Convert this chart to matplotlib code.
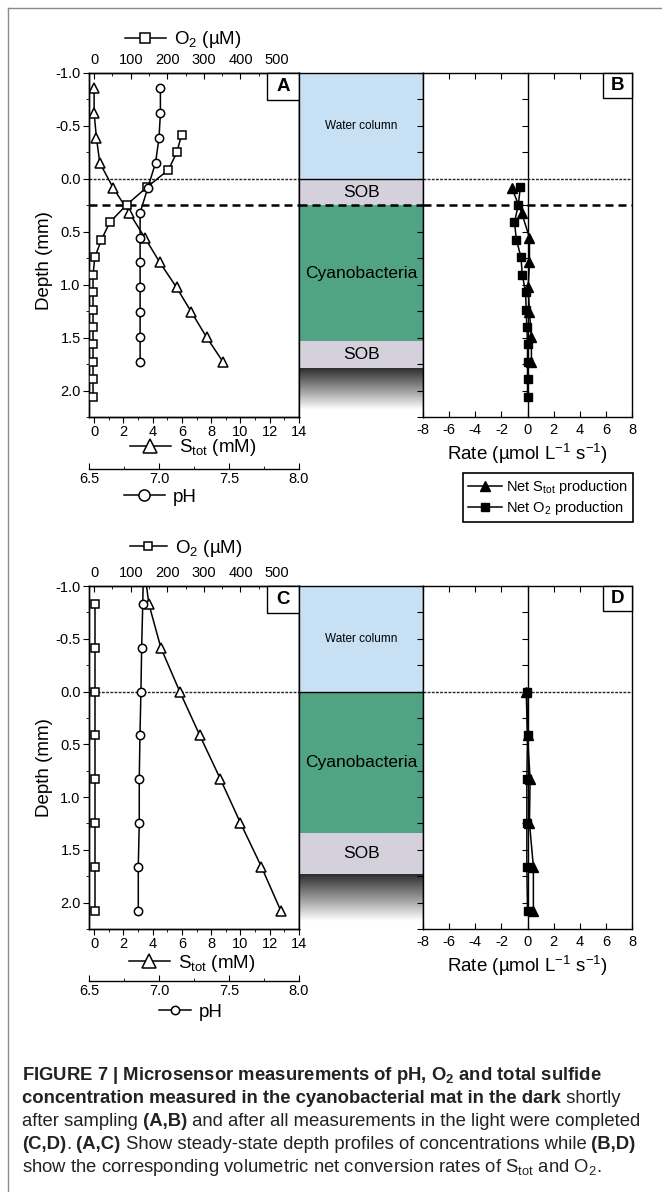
import numpy as np
import matplotlib
matplotlib.use('Agg')
import matplotlib.pyplot as plt
from matplotlib.lines import Line2D
from matplotlib.patches import Rectangle
from matplotlib.colors import LinearSegmentedColormap
from matplotlib.ticker import MultipleLocator, FormatStrFormatter, NullFormatter

plt.rcParams['font.family'] = ['Liberation Sans', 'DejaVu Sans']
plt.rcParams['mathtext.fontset'] = 'custom'
plt.rcParams['mathtext.rm'] = 'Liberation Sans'
plt.rcParams['mathtext.it'] = 'Liberation Sans:italic'
plt.rcParams['mathtext.bf'] = 'Liberation Sans:bold'
plt.rcParams['axes.linewidth'] = 1.0
plt.rcParams['axes.unicode_minus'] = False

# ---- data ----
# panel A: profiles in the dark shortly after sampling
a_depth = [-0.855, -0.62, -0.385, -0.15, 0.085, 0.32, 0.555, 0.79, 1.025, 1.26, 1.495, 1.73]
a_stot = [0.0, 0.0, 0.16, 0.39, 1.3, 2.4, 3.46, 4.49, 5.63, 6.65, 7.68, 8.81]
a_ph = [7.01, 7.01, 7.0, 6.975, 6.92, 6.865, 6.865, 6.865, 6.865, 6.865, 6.865, 6.865]
a_o2_depth = [-0.415, -0.25, -0.085, 0.08, 0.245, 0.41, 0.575, 0.74, 0.905, 1.07,
              1.235, 1.40, 1.565, 1.73, 1.895, 2.06]
a_o2 = [239, 226, 203, 144, 89, 43, 20, 2, -3, -3, -3, -3, -3, -3, -3, -3]

# panel B: net volumetric rates
b_s_depth = [0.085, 0.32, 0.555, 0.79, 1.025, 1.26, 1.495, 1.73]
b_s_rate = [-1.2, -0.45, 0.15, 0.15, 0.05, 0.15, 0.3, 0.3]
b_o2_depth = [0.08, 0.245, 0.41, 0.575, 0.74, 0.905, 1.07, 1.235, 1.40, 1.565, 1.73, 1.895, 2.06]
b_o2_rate = [-0.55, -0.7, -1.0, -0.85, -0.5, -0.4, -0.15, -0.1, -0.05, 0.0, 0.0, 0.0, 0.0]

# panel C: profiles after the light measurements
c_depth = [-1.245, -0.83, -0.415, 0.0, 0.415, 0.83, 1.245, 1.66, 2.075]
c_stot = [3.35, 3.74, 4.56, 5.85, 7.22, 8.63, 10.0, 11.43, 12.75]
c_ph = [6.89, 6.884, 6.876, 6.871, 6.864, 6.859, 6.859, 6.852, 6.852]
c_o2_depth = [-0.83, -0.415, 0.0, 0.415, 0.83, 1.245, 1.66, 2.075]
c_o2 = [2, 2, 2, 2, 2, 2, 2, 2]

# panel D
d_depth = [0.0, 0.415, 0.83, 1.245, 1.66, 2.075]
d_s_rate = [-0.1, 0.0, 0.2, 0.15, 0.45, 0.45]
d_o2_rate = [-0.05, 0.0, -0.05, -0.05, -0.05, 0.0]

# zonation of the mat (name, top depth, bottom depth) and top of the sediment
a_zones = [('Water column', -1.0, 0.0), ('SOB', 0.0, 0.25),
           ('Cyanobacteria', 0.25, 1.53), ('SOB', 1.53, 1.79)]
a_sediment = 1.79
c_zones = [('Water column', -1.0, 0.0), ('Cyanobacteria', 0.0, 1.34), ('SOB', 1.34, 1.73)]
c_sediment = 1.73

CAPTION = [
    [('FIGURE 7 | Microsensor measurements of pH, O$_\\mathbf{2}$ and total sulfide', 'bold')],
    [('concentration measured in the cyanobacterial mat in the dark', 'bold'), (' shortly', 'normal')],
    [('after sampling', 'normal'), (' (A,B)', 'bold'),
     (' and after all measurements in the light were completed', 'normal')],
    [('(C,D)', 'bold'), ('.', 'normal'), (' (A,C)', 'bold'),
     (' Show steady-state depth profiles of concentrations while', 'normal'), (' (B,D)', 'bold')],
    [('show the corresponding volumetric net conversion rates of S$_\\mathrm{tot}$ and O$_2$.', 'normal')],
]

ZONE_COLORS = {'Water column': '#c7e0f3', 'SOB': '#d4d1dc', 'Cyanobacteria': '#50a484'}
ZONE_SIZE = {'Water column': 8.5, 'SOB': 12.5, 'Cyanobacteria': 12.5}
SEDIMENT = LinearSegmentedColormap.from_list(
    'sed', [(0, '#2d2d2d'), (0.45, '#9b9b9b'), (0.85, '#ffffff'), (1, '#ffffff')])

DEPTH_LIM = (2.25, -1.0)
S_LIM = (-0.35, 14.0)
O2_PER_S = 40.0

W, H = 662, 1192
fig = plt.figure(figsize=(W / 100, H / 100), dpi=100)


def rect(x0, y0, x1, y1):
    return [x0 / W, 1 - y1 / H, (x1 - x0) / W, (y1 - y0) / H]


def fxy(x, y):
    return (x / W, 1 - y / H)


def ref_lines(ax, dashed, solid=False):
    if solid:
        ax.axhline(0, color='k', lw=1.0, zorder=2)
    else:
        ax.axhline(0, color='#222222', lw=1.0, ls=(0, (2, 1)), zorder=1.5)
    if dashed is not None:
        ax.axhline(dashed, color='k', lw=1.8, ls=(0, (3.2, 2)), zorder=1.5)


def letter_box(ax, letter, bw, bh):
    ax.add_patch(Rectangle((1 - bw, 1 - bh), bw, bh, transform=ax.transAxes, facecolor='white',
                           edgecolor='k', lw=1.0, clip_on=False, zorder=5))
    ax.text(1 - bw / 2, 1 - bh / 2, letter, transform=ax.transAxes, ha='center', va='center',
            fontsize=13.5, fontweight='bold', zorder=6)


def glyph_legend(ax, marker, ms, label, pos, hl=2.2):
    h = Line2D([], [], color='k', lw=1.1, marker=marker, ms=ms, mfc='white', mec='k', mew=1.1)
    ax.legend([h], [label], loc='center', bbox_to_anchor=fxy(*pos), bbox_transform=fig.transFigure,
              frameon=False, fontsize=13.5, handlelength=hl, handletextpad=0.4,
              borderpad=0, borderaxespad=0)


def profile_panel(y0, y1, depth, stot, ph, o2_depth, o2, letter, dashed, label_y, leg):
    ax = fig.add_axes(rect(89, y0, 299, y1))
    ax.set_xlim(*S_LIM)
    ax.set_ylim(*DEPTH_LIM)
    ax.xaxis.set_major_locator(MultipleLocator(2))
    ax.xaxis.set_minor_locator(MultipleLocator(1))
    ax.yaxis.set_major_locator(MultipleLocator(0.5))
    ax.yaxis.set_minor_locator(MultipleLocator(0.25))
    ax.yaxis.set_major_formatter(FormatStrFormatter('%.1f'))
    ax.tick_params(which='both', direction='out', labelsize=10.5, pad=2)
    ax.tick_params(which='major', length=4)
    ax.tick_params(which='minor', length=2.5)
    ax.set_ylabel('Depth (mm)', fontsize=13.5)
    ax.yaxis.set_label_coords(-0.17, label_y)
    ref_lines(ax, dashed)
    ax.plot(stot, depth, color='k', lw=1.1, marker='^', ms=7, mfc='white', mec='k', mew=1.1, zorder=3)

    ax_o2 = ax.twiny()
    ax_o2.set_xlim(S_LIM[0] * O2_PER_S, S_LIM[1] * O2_PER_S)
    ax_o2.xaxis.set_major_locator(MultipleLocator(100))
    ax_o2.xaxis.set_minor_locator(MultipleLocator(50))
    ax_o2.tick_params(which='both', direction='in', labelsize=10.5, pad=4)
    ax_o2.tick_params(which='major', length=4)
    ax_o2.tick_params(which='minor', length=2.5)
    ax_o2.plot(o2, o2_depth, color='k', lw=1.1, marker='s', ms=6, mfc='white', mec='k', mew=1.1, zorder=3)

    ax_ph = ax.twiny()
    ax_ph.set_xlim(6.5, 8.0)
    ax_ph.xaxis.set_ticks_position('bottom')
    ax_ph.xaxis.set_label_position('bottom')
    ax_ph.spines['bottom'].set_position(('outward', 52 * 0.72))
    for sp in ('top', 'left', 'right'):
        ax_ph.spines[sp].set_visible(False)
    ax_ph.xaxis.set_major_locator(MultipleLocator(0.5))
    ax_ph.xaxis.set_minor_locator(MultipleLocator(0.25))
    ax_ph.xaxis.set_major_formatter(FormatStrFormatter('%.1f'))
    ax_ph.tick_params(which='both', direction='in', labelsize=10.5, pad=2)
    ax_ph.tick_params(which='major', length=4)
    ax_ph.tick_params(which='minor', length=2.5)
    ax_ph.plot(ph, depth, color='k', lw=1.1, marker='o', ms=6, mfc='white', mec='k', mew=1.1, zorder=3)

    glyph_legend(ax_o2, 's', leg['o2_ms'], 'O$_2$ (µM)', leg['o2'], leg['o2_hl'])
    glyph_legend(ax, '^', 10, 'S$_\\mathrm{tot}$ (mM)', leg['s'])
    glyph_legend(ax_ph, 'o', leg['ph_ms'], 'pH', leg['ph'], leg['ph_hl'])
    letter_box(ax_ph, letter, 32 / 210, 27 / 344)


def zone_strip(y0, y1, zones, sediment, dashed):
    ax = fig.add_axes(rect(299, y0, 423, y1))
    ax.set_xticks([])
    ax.set_yticks([])
    ax.spines['bottom'].set_visible(False)
    for name, top, bot in zones:
        ax.axhspan(top, bot, color=ZONE_COLORS[name], lw=0, zorder=0)
        ax.text(0.5, (top + bot) / 2, name, ha='center', va='center', fontsize=ZONE_SIZE[name])
    grad = np.linspace(0, 1, 256).reshape(-1, 1)
    ax.imshow(grad, cmap=SEDIMENT, extent=(0, 1, DEPTH_LIM[0], sediment), aspect='auto',
              origin='upper', zorder=0)
    ax.set_xlim(0, 1)
    ax.set_ylim(*DEPTH_LIM)
    ref_lines(ax, dashed, solid=True)


def rate_panel(y0, y1, s_depth, s_rate, o2_depth, o2_rate, letter, dashed, with_legend):
    ax = fig.add_axes(rect(423, y0, 632, y1))
    ax.set_xlim(-8, 8)
    ax.set_ylim(*DEPTH_LIM)
    ax.xaxis.set_major_locator(MultipleLocator(2))
    ax.yaxis.set_major_locator(MultipleLocator(0.25))
    ax.yaxis.set_major_formatter(NullFormatter())
    ax.tick_params(axis='x', direction='in', top=True, bottom=True, labelsize=10.5, length=4, pad=4)
    ax.tick_params(axis='y', direction='out', length=4)
    ax.set_xlabel('Rate (µmol L$^{-1}$ s$^{-1}$)', fontsize=13.5, labelpad=4)
    zero = ax.secondary_yaxis(0.5)
    zero.set_alignment('left')
    zero.yaxis.set_major_locator(MultipleLocator(0.25))
    zero.tick_params(direction='out', length=4, labelleft=False)
    ref_lines(ax, dashed)
    ax.plot(s_rate, s_depth, color='k', lw=1.1, marker='^', ms=7, zorder=3)
    ax.plot(o2_rate, o2_depth, color='k', lw=1.1, marker='s', ms=6, zorder=3)
    letter_box(ax, letter, 29 / 209, 25 / 344)
    if with_legend:
        hs = Line2D([], [], color='k', lw=1.1, marker='^', ms=7)
        ho = Line2D([], [], color='k', lw=1.1, marker='s', ms=6)
        lg = ax.legend([hs, ho], ['Net S$_\\mathrm{tot}$ production', 'Net O$_2$ production'],
                       loc='upper right', bbox_to_anchor=fxy(633, 473), bbox_transform=fig.transFigure,
                       fontsize=10.5, frameon=True, fancybox=False, edgecolor='k', framealpha=1,
                       handlelength=2.3, handletextpad=0.3, borderpad=0.35, labelspacing=0.2,
                       borderaxespad=0)
        lg.get_frame().set_linewidth(1.2)


# top row (A, B)
profile_panel(73, 417, a_depth, a_stot, a_ph, a_o2_depth, a_o2, 'A', 0.25, 0.456,
              {'o2': (183, 40), 'o2_ms': 7, 'o2_hl': 2.2, 's': (193, 448),
               'ph': (160, 497), 'ph_ms': 8, 'ph_hl': 2.2})
zone_strip(73, 417, a_zones, a_sediment, 0.25)
rate_panel(73, 417, b_s_depth, b_s_rate, b_o2_depth, b_o2_rate, 'B', 0.25, True)

# bottom row (C, D)
profile_panel(586, 929, c_depth, c_stot, c_ph, c_o2_depth, c_o2, 'C', None, 0.472,
              {'o2': (186, 548), 'o2_ms': 6, 'o2_hl': 2.0, 's': (192, 963),
               'ph': (191, 1012), 'ph_ms': 6, 'ph_hl': 1.7})
zone_strip(586, 929, c_zones, c_sediment, None)
rate_panel(586, 929, d_depth, d_s_rate, d_depth, d_o2_rate, 'D', None, False)

# frame around the figure
fig.add_artist(Line2D([8 / W, 8 / W], [0, 1 - 8 / H], color='#8c8c8c', lw=1.0))
fig.add_artist(Line2D([8 / W, 1], [1 - 8 / H, 1 - 8 / H], color='#8c8c8c', lw=1.0))

# caption, mixed bold / regular runs placed one after another
renderer = fig.canvas.get_renderer()
inv = fig.transFigure.inverted()
for i, parts in enumerate(CAPTION):
    x, y = fxy(22, 1080 + 23 * i)
    for s, weight in parts:
        t = fig.text(x, y, s, fontsize=13.3, fontweight=weight, va='baseline', ha='left', color='#222222')
        bb = t.get_window_extent(renderer=renderer)
        x = inv.transform((bb.x1, bb.y0))[0]

fig.savefig('out.png', dpi=100)
